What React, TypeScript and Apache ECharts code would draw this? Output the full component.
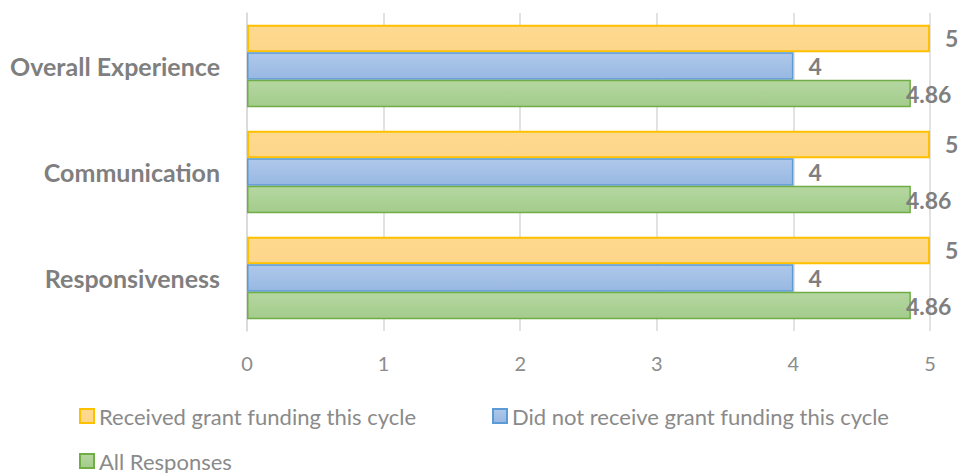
import React, { useEffect, useRef } from "react";
import * as echarts from "echarts";

const categories = ["Overall Experience", "Communication", "Responsiveness"];
const seriesNames = [
  "Received grant funding this cycle",
  "Did not receive grant funding this cycle",
  "All Responses",
];
const receivedValues = [5, 5, 5];
const notReceivedValues = [4, 4, 4];
const allValues = [4.86, 4.86, 4.86];
const xTicks = [0, 1, 2, 3, 4, 5];

const FONT = "Lato, 'Open Sans', sans-serif";
const GRAY = "#7f7f7f";

function grad(top: string, bottom: string) {
  return new echarts.graphic.LinearGradient(0, 0, 0, 1, [
    { offset: 0, color: top },
    { offset: 1, color: bottom },
  ]);
}

export default function App() {
  const ref = useRef<HTMLDivElement>(null);
  useEffect(() => {
    if (!ref.current) return;
    const chart = echarts.init(ref.current, undefined, { renderer: "svg" });
    const label = (distance: number) => ({
      show: true,
      position: "right" as const,
      distance,
      color: GRAY,
      fontFamily: FONT,
      fontWeight: "bold" as const,
      fontSize: 23,
    });
    const legendCommon = {
      icon: "rect",
      itemWidth: 14,
      itemHeight: 14,
      itemGap: 6,
      textStyle: { color: "#8a8a8a", fontFamily: FONT, fontSize: 22, lineHeight: 20, padding: [0, 0, 0, 0] },
    };
    chart.setOption({
      animation: false,
      grid: { left: 247, right: 35, top: 13, bottom: 142, containLabel: false },
      xAxis: {
        type: "value",
        min: xTicks[0],
        max: xTicks[xTicks.length - 1],
        interval: 1,
        axisLine: { show: false },
        axisTick: { show: false },
        splitLine: { show: true, lineStyle: { color: "#d9d9d9", width: 1.5 } },
        axisLabel: { color: "#8c8c8c", fontFamily: FONT, fontSize: 20, margin: 22 },
      },
      yAxis: {
        type: "category",
        data: categories,
        inverse: true,
        axisLine: { show: true, lineStyle: { color: "#d9d9d9", width: 1.5 } },
        axisTick: { show: false },
        axisLabel: {
          color: GRAY,
          fontFamily: FONT,
          fontWeight: "bold",
          fontSize: 25,
          margin: 27,
        },
      },
      legend: [
        { ...legendCommon, data: [seriesNames[0]], left: 74, top: 400 },
        { ...legendCommon, data: [seriesNames[1]], left: 487, top: 400 },
        { ...legendCommon, data: [seriesNames[2]], left: 74, top: 445 },
      ],
      series: [
        {
          name: seriesNames[0],
          type: "bar",
          data: receivedValues,
          barCategoryGap: "22%",
          barGap: "0%",
          itemStyle: {
            color: grad("#fed98f", "#fdd68a"),
            borderColor: "#ffc000",
            borderWidth: 2,
          },
          label: label(15),
        },
        {
          name: seriesNames[1],
          type: "bar",
          data: notReceivedValues,
          barCategoryGap: "22%",
          barGap: "0%",
          itemStyle: {
            color: grad("#aec8ea", "#98b8e2"),
            borderColor: "#5b9bd5",
            borderWidth: 1.5,
          },
          label: label(15),
        },
        {
          name: seriesNames[2],
          type: "bar",
          data: allValues,
          barCategoryGap: "22%",
          barGap: "0%",
          itemStyle: {
            color: grad("#b5d7a1", "#a3cc8c"),
            borderColor: "#70ad47",
            borderWidth: 1.5,
          },
          label: label(-5),
        },
      ],
    });
    return () => chart.dispose();
  }, []);
  return <div ref={ref} style={{ width: 965, height: 473, position: "absolute", left: 0, top: 0 }} />;
}
